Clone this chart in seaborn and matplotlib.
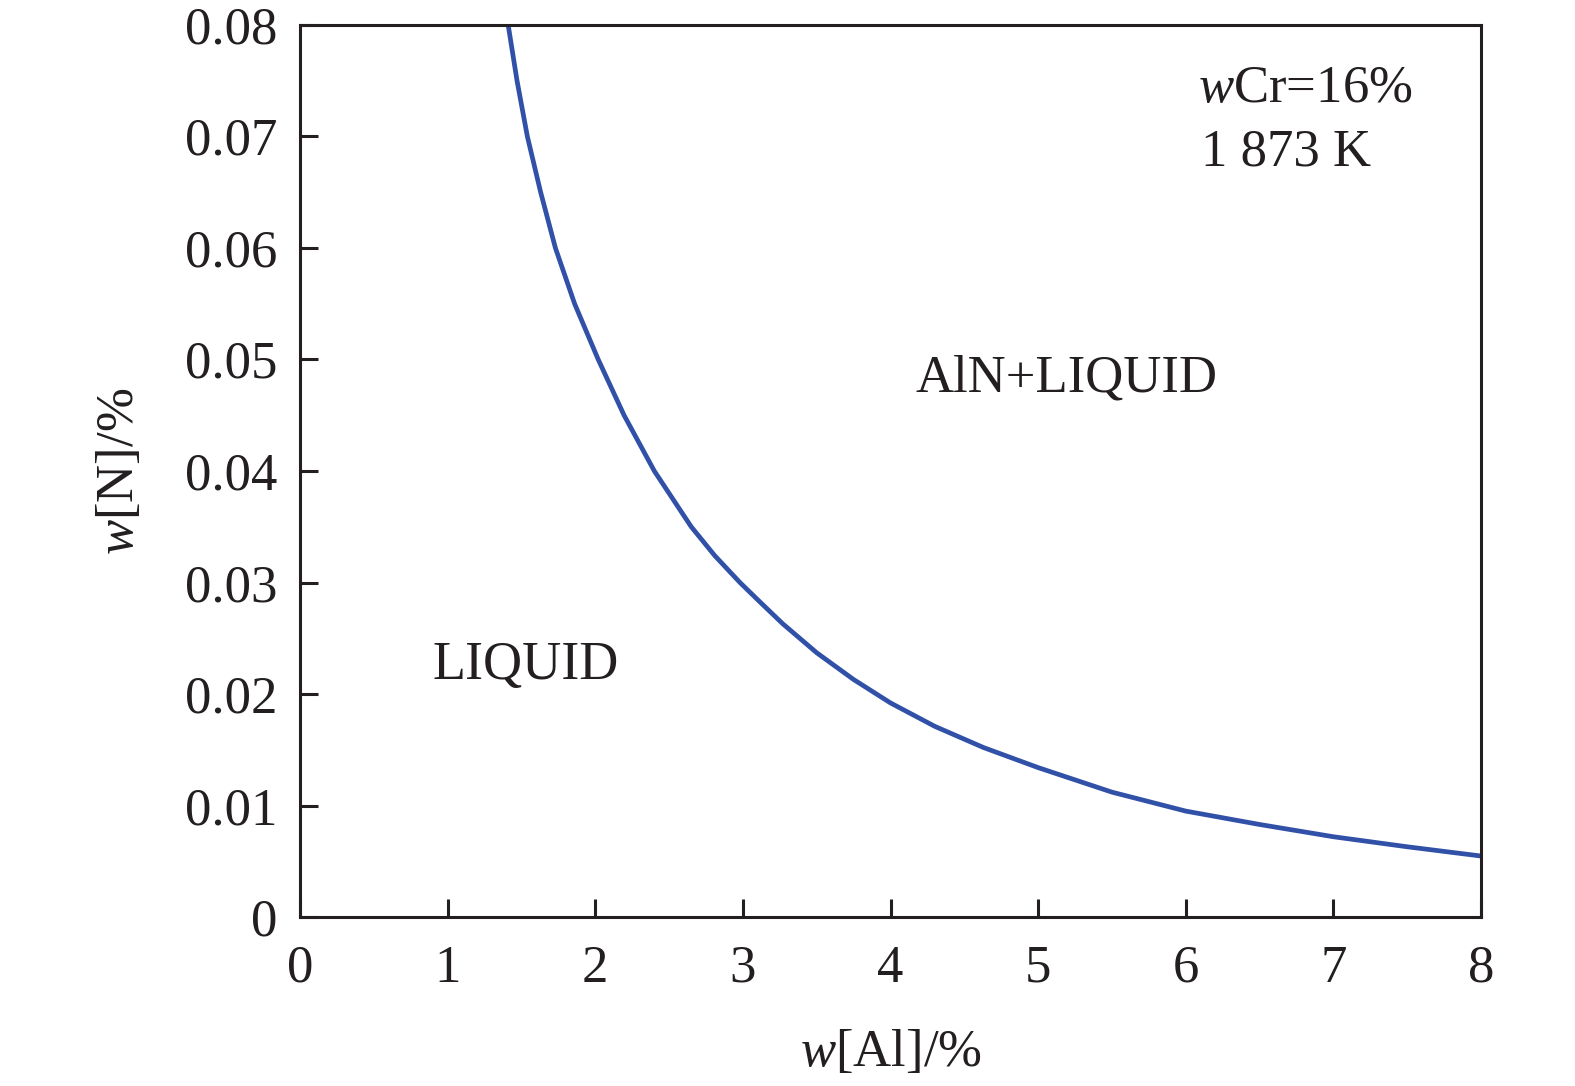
import matplotlib
matplotlib.use("Agg")
import matplotlib.pyplot as plt
import pandas as pd
import seaborn as sns

# boundary curve (w[Al] %, w[N] %)
al_pct = [1.41, 1.47, 1.54, 1.63, 1.73, 1.86, 2.02, 2.195, 2.40, 2.65, 2.81,
          2.98, 3.12, 3.27, 3.50, 3.75, 4.00, 4.30, 4.63, 5.00, 5.50, 6.00,
          6.50, 7.00, 7.50, 8.00]
n_pct = [0.0800, 0.0750, 0.0700, 0.0650, 0.0600, 0.0550, 0.0500, 0.0450,
         0.0400, 0.0350, 0.0324, 0.0300, 0.0282, 0.0263, 0.0237, 0.0213,
         0.0192, 0.0171, 0.0152, 0.0134, 0.0112, 0.0095, 0.0083, 0.0072,
         0.0063, 0.00547]

x_ticks = [0, 1, 2, 3, 4, 5, 6, 7, 8]
y_ticks = [0, 0.01, 0.02, 0.03, 0.04, 0.05, 0.06, 0.07, 0.08]
y_labels = ["0", "0.01", "0.02", "0.03", "0.04", "0.05", "0.06", "0.07", "0.08"]

df = pd.DataFrame({"al": al_pct, "n": n_pct})

sns.set_style("ticks")
plt.rcParams["font.family"] = ["Liberation Serif", "DejaVu Serif"]
plt.rcParams["mathtext.fontset"] = "custom"
plt.rcParams["mathtext.it"] = "Liberation Serif:italic"
plt.rcParams["mathtext.rm"] = "Liberation Serif"

fig = plt.figure(figsize=(15.75, 10.86), dpi=100)
ax = fig.add_axes([0.1905, 0.1556, 0.7498, 0.8214])

sns.lineplot(data=df, x="al", y="n", sort=False, estimator=None,
             color="#3150a8", linewidth=3.4, ax=ax)
ax.lines[0].set_solid_joinstyle("round")

ax.set_xlim(0, 8)
ax.set_ylim(0, 0.08)
ax.set_xticks(x_ticks)
ax.set_xticklabels([str(t) for t in x_ticks])
ax.set_yticks(y_ticks)
ax.set_yticklabels(y_labels)
ax.tick_params(direction="in", length=13, width=2.2, labelsize=38,
               colors="#231f20")
ax.tick_params(axis="y", pad=16)
ax.tick_params(axis="x", pad=20)
for sp in ax.spines.values():
    sp.set_linewidth(2.2)
    sp.set_color("#231f20")

ax.set_xlabel(r"$w$[Al]/%", fontsize=38, color="#231f20", labelpad=26)
ax.set_ylabel(r"$w$[N]/%", fontsize=38, color="#231f20", labelpad=30)

tc = "#231f20"
ax.text(4.17, 0.0483, "AlN+LIQUID", fontsize=38, color=tc, ha="left", va="center")
ax.text(0.894, 0.0225, "LIQUID", fontsize=39, color=tc, ha="left", va="center")
ax.text(6.08, 0.0743, r"$w$Cr=16%", fontsize=38, color=tc, ha="left", va="center")
ax.text(6.10, 0.0686, "1 873 K", fontsize=38, color=tc, ha="left", va="center")

fig.savefig("out.png", dpi=100)
